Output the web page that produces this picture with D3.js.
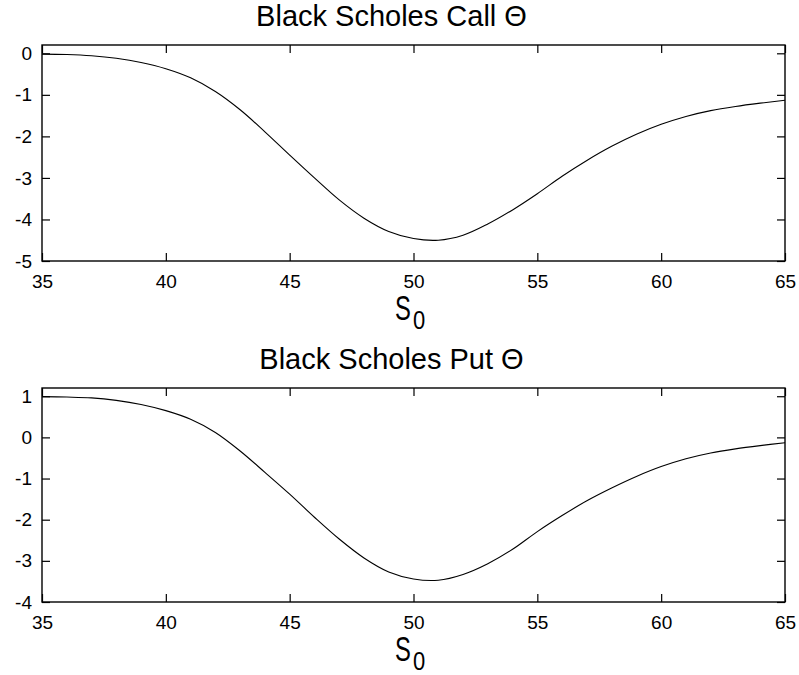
<!DOCTYPE html>
<html>
<head>
<meta charset="utf-8">
<script src="https://cdn.jsdelivr.net/npm/d3@7"></script>
<style>
  html, body { margin: 0; padding: 0; background: #fff; }
  svg { display: block; }
  text { font-family: "Liberation Sans", Arial, Helvetica, sans-serif; fill: #000; }
</style>
</head>
<body>
<svg id="chart" width="799" height="675"></svg>
<script>
// ---- data ----
const spotPrices = [35,36,37,38,39,40,41,42,43,44,45,46,47,48,49,50,51,52,53,54,55,56,57,58,59,60,61,62,63,64,65];
const callTheta = [-0.02,-0.03,-0.06,-0.12,-0.22,-0.37,-0.59,-0.92,-1.36,-1.89,-2.45,-3.00,-3.53,-3.97,-4.29,-4.46,-4.50,-4.38,-4.11,-3.77,-3.38,-2.96,-2.58,-2.24,-1.95,-1.71,-1.52,-1.38,-1.28,-1.20,-1.13];
const putTheta  = [0.99,0.98,0.96,0.90,0.80,0.65,0.44,0.12,-0.33,-0.85,-1.38,-1.94,-2.47,-2.93,-3.27,-3.44,-3.47,-3.33,-3.07,-2.72,-2.29,-1.90,-1.54,-1.23,-0.95,-0.71,-0.52,-0.38,-0.28,-0.20,-0.13];
const xTicks = [35,40,45,50,55,60,65];
const callYTicks = [0,-1,-2,-3,-4,-5];
const putYTicks = [1,0,-1,-2,-3,-4];
const titles = ["Black Scholes Call \u0398", "Black Scholes Put \u0398"];

const svg = d3.select("#chart");

const panels = [
  { title: titles[0], values: callTheta, yDomain: [-5, 0.2], yTicks: callYTicks, top: 45, bottom: 261, labelGap: 59 },
  { title: titles[1], values: putTheta,  yDomain: [-4, 1.2], yTicks: putYTicks,  top: 388, bottom: 602, labelGap: 59 }
];

const left = 42, right = 785;
const tickLen = 8;
const fmt = d => String(d); // plain hyphen-minus like the reference

panels.forEach(p => {
  const x = d3.scaleLinear().domain([35, 65]).range([left, right]);
  const y = d3.scaleLinear().domain(p.yDomain).range([p.bottom, p.top]);
  const g = svg.append("g");

  // curve
  const line = d3.line()
    .x((d, i) => x(spotPrices[i]))
    .y(d => y(d))
    .curve(d3.curveCatmullRom.alpha(0.5));
  g.append("path")
    .datum(p.values)
    .attr("d", line)
    .attr("fill", "none")
    .attr("stroke", "#000")
    .attr("stroke-width", 1.1);

  // axes: bottom with labels, left with labels, top/right mirrored ticks
  const axB = g.append("g").attr("transform", `translate(0,${p.bottom})`)
    .call(d3.axisBottom(x).tickValues(xTicks).tickSizeInner(-tickLen).tickSizeOuter(0).tickPadding(14).tickFormat(fmt));
  const axT = g.append("g").attr("transform", `translate(0,${p.top})`)
    .call(d3.axisTop(x).tickValues(xTicks).tickSizeInner(-tickLen).tickSizeOuter(0).tickFormat(""));
  const axL = g.append("g").attr("transform", `translate(${left},0)`)
    .call(d3.axisLeft(y).tickValues(p.yTicks).tickSizeInner(-tickLen).tickSizeOuter(0).tickPadding(10).tickFormat(fmt));
  const axR = g.append("g").attr("transform", `translate(${right},0)`)
    .call(d3.axisRight(y).tickValues(p.yTicks).tickSizeInner(-tickLen).tickSizeOuter(0).tickFormat(""));

  [axB, axT, axL, axR].forEach(a => {
    a.select(".domain").remove();
    a.selectAll(".tick line").attr("stroke", "#000").attr("stroke-width", 1.2);
    a.selectAll("text")
      .style("font-family", '"Liberation Sans", Arial, sans-serif')
      .style("font-size", "19px")
      .attr("fill", "#000");
  });
  axB.selectAll("text").attr("dy", "0.71em");

  // box
  g.append("rect")
    .attr("x", left).attr("y", p.top)
    .attr("width", right - left).attr("height", p.bottom - p.top)
    .attr("fill", "none").attr("stroke", "#000").attr("stroke-width", 1.4);

  // title
  g.append("text")
    .attr("x", 391.5).attr("y", p.top - 19)
    .attr("text-anchor", "middle")
    .style("font-size", "29px")
    .text(p.title);

  // S_0 label (glyphs stretched vertically so the text box stays compact)
  const lx = 395, ly = p.bottom + p.labelGap;
  g.append("text")
    .attr("transform", `translate(${lx},${ly}) scale(0.85,1.25)`)
    .style("font-size", "28px")
    .text("S");
  g.append("text")
    .attr("transform", `translate(${lx + 18},${ly + 9}) scale(1.0,1.2)`)
    .style("font-size", "22px")
    .text("0");
});
</script>
</body>
</html>
